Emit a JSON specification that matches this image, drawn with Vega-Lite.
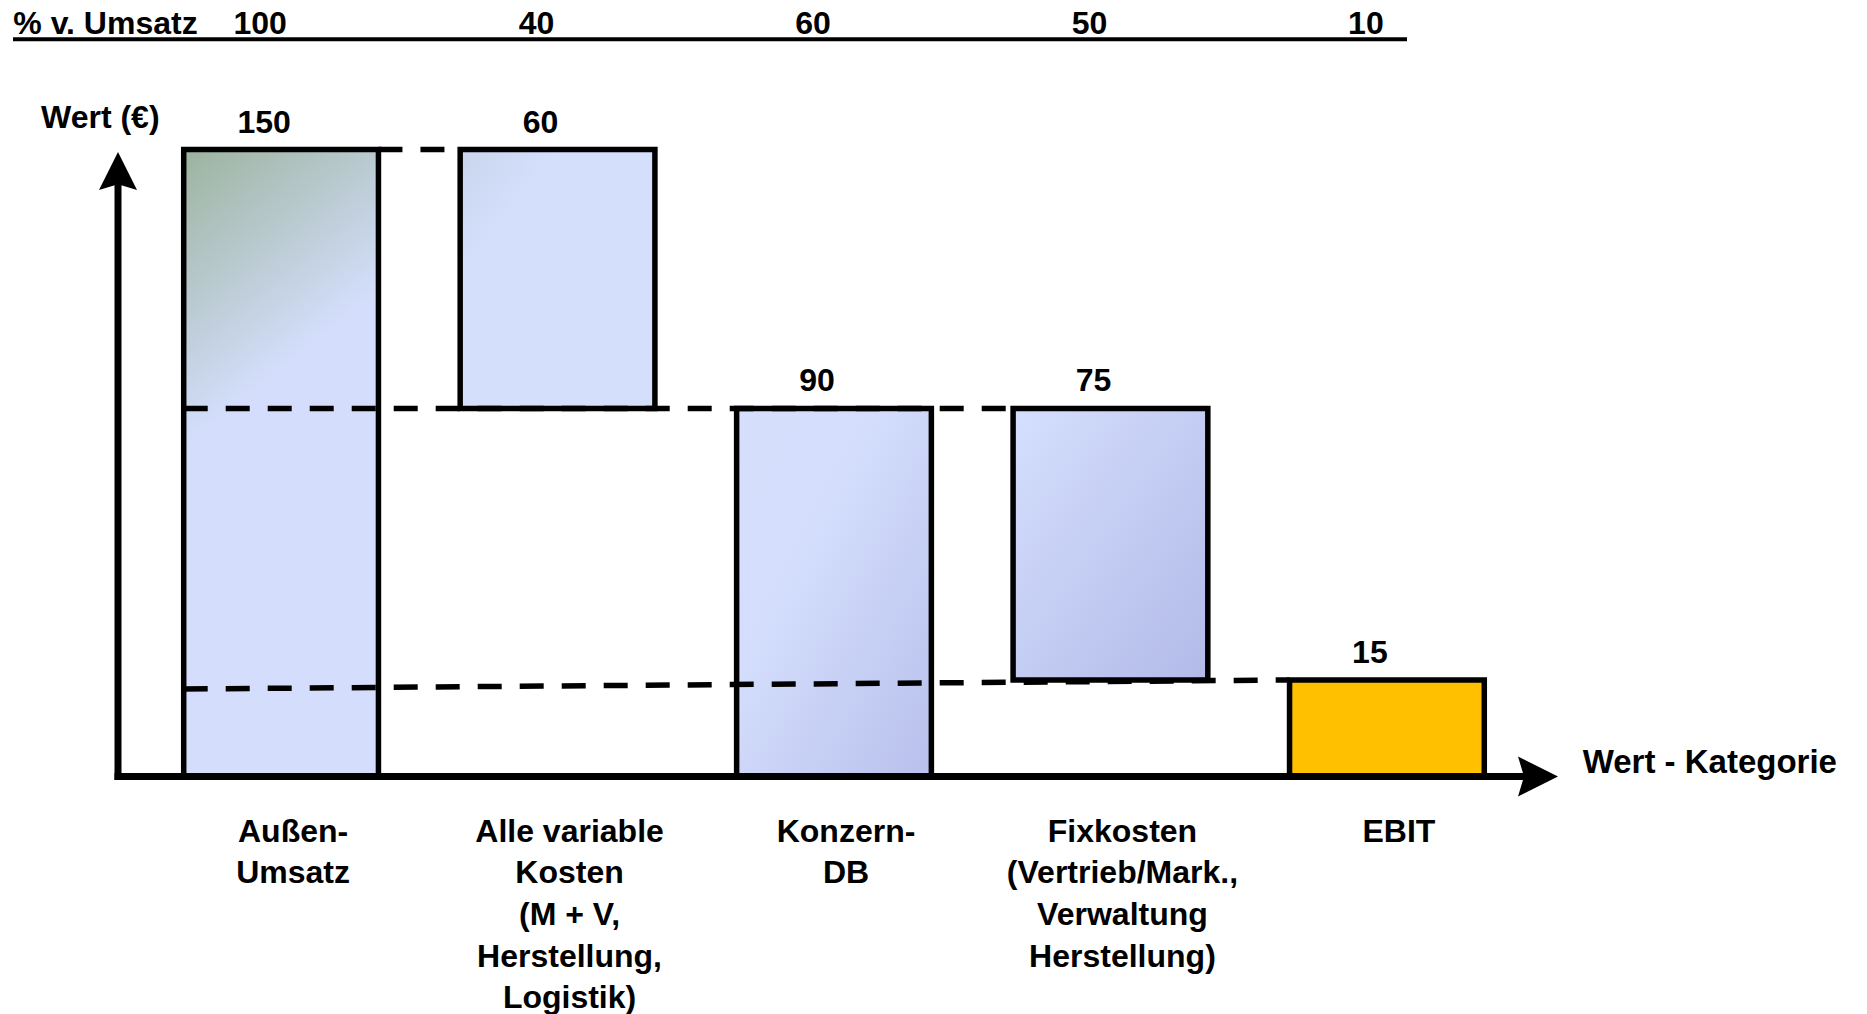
{
  "$schema": "https://vega.github.io/schema/vega-lite/v6.json",
  "width": 1432,
  "height": 637,
  "autosize": {"type": "none"},
  "padding": {"left": 118, "top": 140, "right": 317, "bottom": 237},
  "background": "white",
  "config": {
    "view": {"stroke": null},
    "text": {"font": "Liberation Sans", "fontWeight": "bold", "fontSize": 32, "color": "black"}
  },
  "datasets": {
    "bars": [
      {"kategorie": "Außen-Umsatz", "label": "Außen-\nUmsatz", "wert": 150, "prozent": 100, "von": 0, "bis": 150},
      {"kategorie": "Alle variable Kosten", "label": "Alle variable\nKosten\n(M + V,\nHerstellung,\nLogistik)", "wert": 60, "prozent": 40, "von": 90, "bis": 150},
      {"kategorie": "Konzern-DB", "label": "Konzern-\nDB", "wert": 90, "prozent": 60, "von": 0, "bis": 90},
      {"kategorie": "Fixkosten", "label": "Fixkosten\n(Vertrieb/Mark.,\nVerwaltung\nHerstellung)", "wert": 75, "prozent": 50, "von": 15, "bis": 90},
      {"kategorie": "EBIT", "label": "EBIT", "wert": 15, "prozent": 10, "von": 0, "bis": 15}
    ],
    "links_rechts": [
      {"von": "Außen-Umsatz", "bis": "Alle variable Kosten", "y_von": 150, "y_bis": 150}
    ],
    "links_links": [
      {"von": "Außen-Umsatz", "bis": "Fixkosten", "y_von": 90, "y_bis": 90},
      {"von": "Außen-Umsatz", "bis": "EBIT", "y_von": 13.6, "y_bis": 15}
    ]
  },
  "layer": [
    {
      "data": {"name": "bars"},
      "mark": {"type": "bar", "stroke": "black", "strokeWidth": 5.5},
      "encoding": {
        "x": {
          "field": "kategorie", "type": "nominal", "axis": null, "sort": null,
          "scale": {
            "domain": ["Außen-Umsatz", "Alle variable Kosten", "Konzern-DB", "Fixkosten", "EBIT"],
            "paddingInner": 0.2956, "paddingOuter": 0.2377
          }
        },
        "y": {
          "field": "von", "type": "quantitative", "axis": null,
          "scale": {"type": "linear", "domain": [0, 15, 90, 150], "range": [636.5, 540, 268.4, 9.5], "nice": false, "zero": false}
        },
        "y2": {"field": "bis"},
        "fill": {
          "condition": [
            {"test": "datum.kategorie === 'Außen-Umsatz'", "value": {"gradient": "linear", "x1": 0, "y1": 0, "x2": 0.25, "y2": 1, "stops": [{"offset": 0, "color": "#9cb39e"}, {"offset": 0.45, "color": "#d4defc"}, {"offset": 1, "color": "#d4defc"}]}},
            {"test": "datum.kategorie === 'Alle variable Kosten'", "value": {"gradient": "linear", "x1": 0, "y1": 0, "x2": 1, "y2": 1, "stops": [{"offset": 0, "color": "#c9d4ec"}, {"offset": 0.25, "color": "#d4dffc"}, {"offset": 1, "color": "#d4dffc"}]}},
            {"test": "datum.kategorie === 'Konzern-DB'", "value": {"gradient": "linear", "x1": 0, "y1": 0, "x2": 1, "y2": 1, "stops": [{"offset": 0, "color": "#d6e0fd"}, {"offset": 0.35, "color": "#d4defc"}, {"offset": 1, "color": "#b8c0ec"}]}},
            {"test": "datum.kategorie === 'Fixkosten'", "value": {"gradient": "linear", "x1": 0, "y1": 0, "x2": 1, "y2": 1, "stops": [{"offset": 0, "color": "#d5dffd"}, {"offset": 1, "color": "#b2bae8"}]}}
          ],
          "value": "#ffc000"
        }
      }
    },
    {
      "data": {"name": "links_rechts"},
      "mark": {"type": "rule", "color": "black", "strokeWidth": 5.5, "strokeDash": [24, 18]},
      "encoding": {
        "x": {"field": "von", "type": "nominal", "bandPosition": 1},
        "x2": {"field": "bis", "bandPosition": 0},
        "y": {"field": "y_von", "type": "quantitative"},
        "y2": {"field": "y_bis"}
      }
    },
    {
      "data": {"name": "links_links"},
      "mark": {"type": "rule", "color": "black", "strokeWidth": 5.5, "strokeDash": [24, 18]},
      "encoding": {
        "x": {"field": "von", "type": "nominal", "bandPosition": 0},
        "x2": {"field": "bis", "bandPosition": 0},
        "y": {"field": "y_von", "type": "quantitative"},
        "y2": {"field": "y_bis"}
      }
    },
    {
      "data": {"values": [{}]},
      "mark": {"type": "rule", "color": "black", "strokeWidth": 7},
      "encoding": {"x": {"value": 0}, "y": {"value": 40}, "y2": {"value": 640}}
    },
    {
      "data": {"values": [{}]},
      "mark": {"type": "rule", "color": "black", "strokeWidth": 7},
      "encoding": {"x": {"value": -3.5}, "x2": {"value": 1412}, "y": {"value": 636.5}}
    },
    {
      "data": {"values": [{}]},
      "mark": {"type": "point", "filled": true, "color": "black", "opacity": 1, "strokeWidth": 0, "shape": "M0,-1L1,1L0,0.7L-1,1Z", "size": 1444},
      "encoding": {"x": {"value": 0}, "y": {"value": 31}}
    },
    {
      "data": {"values": [{}]},
      "mark": {"type": "point", "filled": true, "color": "black", "opacity": 1, "strokeWidth": 0, "shape": "M1,0L-1,1L-0.7,0L-1,-1Z", "size": 1600},
      "encoding": {"x": {"value": 1420}, "y": {"value": 636.5}}
    },
    {
      "data": {"values": [{}]},
      "mark": {"type": "rule", "color": "black", "strokeWidth": 4},
      "encoding": {"x": {"value": -105}, "x2": {"value": 1289}, "y": {"value": -100.7}}
    },
    {
      "data": {"values": [{}]},
      "mark": {"type": "text", "text": "% v. Umsatz", "align": "left", "baseline": "alphabetic", "font": "Liberation Sans", "fontWeight": "bold"},
      "encoding": {"x": {"value": -104.7}, "y": {"value": -106.5}}
    },
    {
      "data": {"values": [{}]},
      "mark": {"type": "text", "text": "Wert (€)", "align": "left", "baseline": "alphabetic", "font": "Liberation Sans", "fontWeight": "bold"},
      "encoding": {"x": {"value": -77}, "y": {"value": -11.7}}
    },
    {
      "data": {"values": [{}]},
      "mark": {"type": "text", "text": "Wert - Kategorie", "align": "left", "baseline": "alphabetic", "font": "Liberation Sans", "fontWeight": "bold", "fontSize": 33},
      "encoding": {"x": {"value": 1464.7}, "y": {"value": 633.3}}
    },
    {
      "data": {"name": "bars"},
      "mark": {"type": "text", "align": "center", "baseline": "alphabetic", "dx": -21, "font": "Liberation Sans", "fontWeight": "bold"},
      "encoding": {
        "x": {"field": "kategorie", "type": "nominal"},
        "y": {"value": -106.5},
        "text": {"field": "prozent", "type": "quantitative"}
      }
    },
    {
      "data": {"name": "bars"},
      "mark": {"type": "text", "align": "center", "baseline": "alphabetic", "dx": -17, "dy": -17, "font": "Liberation Sans", "fontWeight": "bold"},
      "encoding": {
        "x": {"field": "kategorie", "type": "nominal"},
        "y": {"field": "bis", "type": "quantitative"},
        "text": {"field": "wert", "type": "quantitative"}
      }
    },
    {
      "data": {"name": "bars"},
      "mark": {"type": "text", "align": "center", "baseline": "alphabetic", "dx": 12, "lineBreak": "\n", "lineHeight": 41.7, "font": "Liberation Sans", "fontWeight": "bold"},
      "encoding": {
        "x": {"field": "kategorie", "type": "nominal"},
        "y": {"value": 701.7},
        "text": {"field": "label", "type": "nominal"}
      }
    }
  ]
}
